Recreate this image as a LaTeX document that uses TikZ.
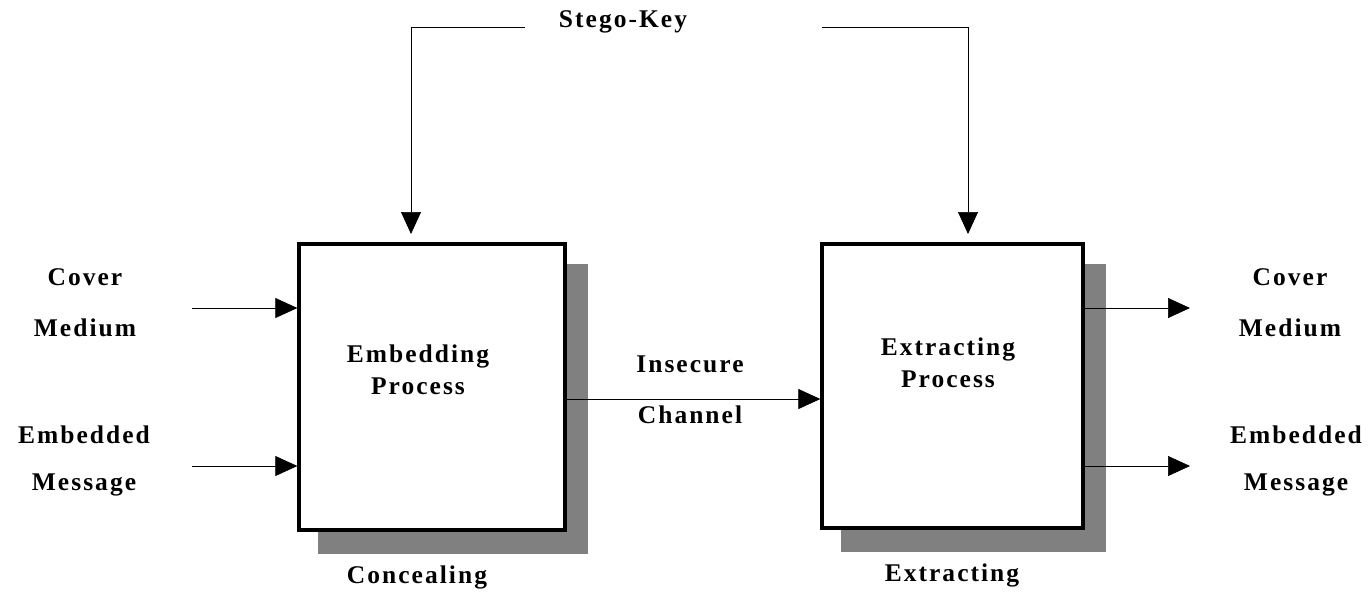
\documentclass[tikz,border=0pt]{standalone}
\usepackage{fontspec}
\setmainfont{Liberation Serif}
\newfontfamily\lblfont[LetterSpace=8]{Liberation Serif}
\usetikzlibrary{arrows.meta,positioning,backgrounds}

\begin{document}
\begin{tikzpicture}[x=0.02cm, y=-0.02cm, >={Triangle[length=0.44cm, width=0.4cm]}, line width=1.6pt,
    lbl/.style={font=\lblfont\bfseries\fontsize{14.5}{17}\selectfont, align=center, inner sep=0pt},
    procbox/.style={draw, line width=1.9pt, fill=white, inner sep=0pt}]
    \useasboundingbox (0,0) rectangle (1371,593);

    \def\ShX{21}   % shadow offset right
    \def\ShY{22}   % shadow offset down

    % the two process boxes
    \node[procbox, minimum width=266*0.02cm, minimum height=286*0.02cm] (Emb) at (432,387) {};
    \node[procbox, minimum width=261*0.02cm, minimum height=284*0.02cm] (Ext) at (952.5,386) {};
    \begin{pgfonlayer}{background}
      \fill[gray] ([shift={(\ShX,\ShY)}]Emb.south west) rectangle ([shift={(\ShX,\ShY)}]Emb.north east);
      \fill[gray] ([shift={(\ShX,\ShY)}]Ext.south west) rectangle ([shift={(\ShX,\ShY)}]Ext.north east);
    \end{pgfonlayer}

    \node[lbl] (EmbTxt) at (418,370) {Embedding\\[1pt]Process};
    \node[lbl] (ExtTxt) at (948,363) {Extracting\\[1pt]Process};
    \node[lbl] (Conc) at (417,577) {Concealing};
    \node[lbl] (Extr) at (952,575) {Extracting};

    % stego key
    \node[lbl] (Key) at (623,22) {Stego-Key};
    \coordinate (KL) at (525,27);
    \coordinate (KR) at (822,27);
    \coordinate (KLtip) at (411,234);
    \coordinate (KRtip) at (968,234);
    \draw[->] (KL) -- (KL -| KLtip) -- (KLtip);
    \draw[->] (KR) -- (KR -| KRtip) -- (KRtip);

    % inputs
    \node[lbl] (CovIn) at (85,302.5) {Cover\\[12pt]Medium};
    \node[lbl] (MsgIn) at (84,461) {Embedded\\[10pt]Message};
    \coordinate (CI) at (192,308);
    \coordinate (MI) at (192,466);
    \draw[->] (CI) -- (CI -| Emb.west);
    \draw[->] (MI) -- (MI -| Emb.west);

    % channel
    \node[lbl] (Chan) at (690,390) {Insecure\\[12pt]Channel};
    \coordinate (Ch) at (690,399);
    \draw[->] (Ch -| Emb.east) -- (Ch -| Ext.west);

    % outputs
    \node[lbl] (CovOut) at (1290,302.5) {Cover\\[12pt]Medium};
    \node[lbl] (MsgOut) at (1296,461) {Embedded\\[10pt]Message};
    \coordinate (CO) at (1190,308);
    \coordinate (MO) at (1190,466);
    \draw[->] (CO -| Ext.east) -- (CO);
    \draw[->] (MO -| Ext.east) -- (MO);
\end{tikzpicture}
\end{document}
